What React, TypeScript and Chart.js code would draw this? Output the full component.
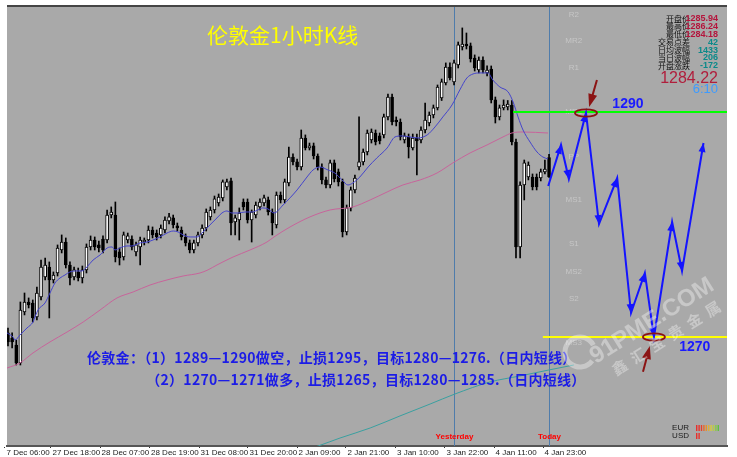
import React, { useEffect, useRef } from 'react';
import { Chart, registerables } from 'chart.js';
Chart.register(...registerables);

// ---- candle data (1h bars, index 0..131) ----
const openV = [1270.36,1269.91,1269.29,1267.69,1272.22,1273.11,1273.02,1271.78,1273.56,1275.33,1276.22,1275.07,1275.69,1277.73,1278.44,1276.4,1275.33,1275.78,1275.24,1275.96,1278.0,1278.62,1278.18,1278.71,1278.62,1280.84,1280.84,1277.56,1277.11,1278.62,1278.71,1277.56,1278.0,1278.44,1278.62,1279.51,1279.24,1279.07,1279.51,1280.31,1280.58,1279.87,1279.51,1278.89,1278.36,1277.73,1278.36,1279.07,1279.69,1280.67,1281.29,1281.91,1282.36,1283.33,1283.87,1280.22,1280.4,1282.0,1282.0,1280.4,1280.84,1281.56,1281.91,1282.18,1281.11,1279.96,1282.62,1282.18,1283.69,1286.0,1285.56,1285.11,1287.69,1286.8,1286.98,1286.09,1285.11,1283.96,1283.51,1285.47,1284.67,1283.78,1279.33,1281.47,1283.07,1285.11,1285.56,1286.44,1287.51,1288.13,1287.87,1287.96,1289.56,1291.33,1289.29,1289.11,1287.51,1287.78,1286.8,1287.69,1287.51,1288.4,1289.02,1289.73,1290.36,1291.24,1292.58,1294.0,1292.67,1294.18,1295.78,1296.04,1295.87,1294.8,1293.73,1294.62,1293.47,1293.82,1291.07,1289.56,1290.36,1290.44,1290.62,1287.33,1278.0,1283.51,1284.22,1284.22,1284.22,1284.13,1284.67,1285.94];
const highV = [1270.8,1270.36,1269.73,1273.11,1273.91,1273.47,1273.29,1274.44,1276.84,1277.02,1276.67,1275.78,1278.18,1279.07,1278.8,1276.67,1276.22,1276.13,1276.31,1278.27,1278.98,1278.89,1278.53,1278.98,1281.29,1281.56,1282.0,1277.91,1279.33,1279.24,1278.98,1278.44,1278.89,1278.8,1279.87,1279.78,1279.51,1279.96,1280.67,1280.98,1280.84,1280.13,1279.78,1279.16,1278.62,1278.62,1279.33,1279.96,1281.38,1281.56,1282.53,1282.71,1283.96,1284.04,1284.13,1280.84,1281.47,1282.27,1282.27,1281.29,1282.0,1282.27,1282.62,1282.44,1281.38,1282.89,1282.89,1284.04,1286.89,1286.27,1285.82,1288.4,1287.96,1287.24,1287.24,1286.27,1285.38,1284.22,1285.73,1285.73,1284.93,1284.04,1281.73,1283.33,1284.4,1289.56,1286.71,1288.4,1288.49,1288.4,1288.13,1289.82,1291.6,1291.6,1289.56,1289.38,1288.13,1288.04,1288.04,1288.04,1288.67,1290.8,1290.0,1290.62,1292.4,1292.93,1294.36,1294.36,1294.62,1296.22,1297.47,1297.02,1296.13,1295.07,1294.89,1294.89,1294.09,1294.09,1291.33,1290.62,1291.07,1291.02,1291.02,1287.6,1283.78,1285.73,1285.56,1284.49,1284.49,1284.93,1285.73,1286.24];
const lowV = [1269.2,1269.02,1267.51,1267.51,1271.96,1272.58,1271.33,1271.51,1273.29,1275.07,1271.69,1274.8,1275.42,1277.47,1276.13,1274.62,1275.07,1274.98,1274.8,1275.69,1277.73,1277.73,1277.56,1277.47,1278.36,1280.58,1276.67,1276.4,1276.84,1278.36,1277.73,1277.2,1276.4,1278.18,1278.36,1278.8,1278.62,1278.8,1279.24,1280.04,1279.69,1279.42,1278.62,1278.09,1277.47,1277.47,1278.09,1278.8,1279.42,1280.4,1281.02,1281.64,1282.09,1283.07,1279.07,1279.07,1278.62,1281.29,1280.13,1278.44,1280.58,1281.29,1281.64,1280.84,1279.07,1279.69,1281.91,1281.91,1283.42,1285.29,1284.84,1284.84,1286.62,1286.62,1285.82,1284.84,1283.6,1283.24,1283.24,1283.78,1283.42,1278.89,1279.07,1281.2,1282.8,1284.84,1285.29,1286.18,1287.24,1287.07,1287.16,1287.69,1289.29,1288.84,1288.76,1287.51,1287.24,1285.91,1286.62,1284.4,1287.24,1288.13,1288.76,1289.47,1290.18,1291.02,1292.4,1292.84,1292.4,1293.91,1295.51,1295.6,1294.44,1293.64,1293.47,1293.47,1293.2,1290.8,1289.02,1289.29,1290.18,1290.18,1287.07,1277.02,1277.02,1282.18,1283.96,1283.07,1283.07,1283.87,1284.49,1284.18];
const closeV = [1269.56,1269.56,1267.69,1272.4,1273.11,1272.84,1271.69,1273.91,1276.22,1276.4,1275.07,1275.51,1277.91,1278.44,1276.4,1275.24,1275.96,1275.24,1275.96,1278.0,1278.62,1278.0,1277.91,1277.73,1280.84,1281.11,1277.11,1277.02,1279.07,1278.98,1278.0,1278.18,1278.62,1278.62,1279.51,1279.07,1278.89,1279.69,1280.4,1280.67,1279.96,1279.69,1278.89,1278.36,1277.73,1278.36,1279.07,1279.69,1281.11,1281.29,1282.27,1282.44,1283.78,1283.78,1280.13,1280.58,1281.02,1281.56,1280.4,1281.11,1281.73,1282.0,1282.36,1281.11,1280.13,1282.62,1282.18,1283.78,1286.0,1285.56,1285.11,1287.69,1286.8,1286.98,1286.09,1285.11,1283.96,1283.51,1285.47,1284.04,1283.78,1279.33,1281.47,1283.07,1284.13,1285.56,1286.44,1288.13,1288.22,1287.33,1287.42,1289.56,1291.33,1289.11,1289.11,1287.78,1287.87,1286.89,1287.69,1287.42,1288.4,1289.29,1289.73,1290.36,1292.22,1292.67,1294.0,1293.02,1294.36,1295.96,1296.04,1295.87,1294.71,1293.91,1294.62,1293.73,1293.73,1291.07,1289.56,1290.36,1290.62,1290.71,1287.33,1278.0,1283.51,1285.47,1285.29,1283.33,1283.33,1284.67,1284.93,1284.22];

// ---- x-axis ticks (bar index positions) ----
const tickIdx = [-0.73, 10.41, 22.28, 34.26, 46.25, 58.11, 69.98, 81.84, 93.82, 105.81, 117.68, 129.54];
const tickLabels = ['7 Dec 06:00', '27 Dec 18:00', '28 Dec 07:00', '28 Dec 19:00', '31 Dec 08:00', '31 Dec 20:00', '2 Jan 09:00', '2 Jan 21:00', '3 Jan 10:00', '3 Jan 22:00', '4 Jan 11:00', '4 Jan 23:00'];
const xMin = -0.24;
const xMax = 174.09;
const yMin = 1260.31;
const yMax = 1299.33;

// ---- moving averages ----
const maFastIdx = [-0.24,1.21,1.69,2.9,4.6,6.05,7.26,8.96,10.17,11.38,12.59,13.8,15.0,16.7,17.9,19.1,20.6,22.3,24.0,25.2,25.9,27.1,28.8,30.0,32.0,33.7,35.1,36.8,38.5,40.0,41.2,42.4,44.1,45.8,47.2,48.9,50.6,51.8,53.0,54.2,55.7,57.4,59.1,60.5,61.7,62.95,64.4,66.6,70.0,72.4,73.85,75.5,77.5,79.1,80.9,82.3,83.5,85.2,87.2,89.3,91.8,93.7,95.4,97.3,99.3,101.5,103.4,105.3,107.5,109.4,111.1,112.6,114.3,116.2,117.4,119.1,121.1,122.3,123.5,124.7,126.4,128.1,129.5,130.75];
const maFastVal = [1270.36,1270.0,1269.73,1270.18,1270.8,1271.33,1272.4,1273.02,1273.91,1274.8,1275.24,1275.51,1275.78,1275.87,1275.87,1276.22,1276.84,1277.29,1277.91,1278.0,1277.73,1277.91,1278.09,1278.09,1278.36,1278.44,1278.62,1278.89,1279.24,1279.42,1279.33,1279.07,1278.89,1278.89,1279.33,1279.96,1280.58,1281.02,1281.2,1281.02,1281.02,1281.11,1281.11,1281.29,1281.47,1281.38,1281.02,1281.73,1283.07,1284.22,1284.84,1285.11,1284.84,1284.58,1283.96,1283.51,1283.69,1284.22,1285.11,1285.91,1286.8,1287.78,1287.87,1287.78,1287.69,1287.96,1288.67,1289.56,1290.62,1291.96,1293.02,1293.38,1293.47,1293.47,1292.84,1292.22,1291.78,1290.89,1289.56,1288.4,1287.33,1286.44,1286.0,1285.82];
const maSlowIdx = [-0.24,2.9,6.05,10.17,14.3,18.2,22.3,26.4,30.3,34.4,38.5,42.4,46.5,48.4,50.6,54.5,58.6,62.7,64.4,68.3,73.1,78.0,83.5,87.7,91.8,95.6,99.8,103.9,107.7,111.9,116.0,119.85,122.0,124.7,130.75];
const maSlowVal = [1267.24,1267.69,1268.58,1269.56,1270.44,1271.33,1272.4,1273.47,1274.0,1274.62,1275.07,1275.42,1275.69,1275.96,1276.4,1277.11,1277.73,1278.44,1278.89,1279.78,1280.67,1281.29,1281.56,1282.18,1282.89,1283.51,1283.96,1284.58,1285.47,1286.36,1287.07,1287.78,1288.13,1288.22,1288.13];
const maLongIdx = [70.7,75.1,80.4,87.7,94.9,102.2,108.2,116.7,123.9,131.0,137.0];
const maLongVal = [1259.78,1260.31,1261.02,1261.91,1262.98,1264.04,1264.93,1266.0,1266.53,1267.07,1267.51];

// ---- projected path ----
const pathIdx = [130.8,133.9,135.8,139.95,143.1,147.5,150.85,154.2,156.4,160.8,163.2,168.4];
const pathVal = [1283.42,1287.07,1284.04,1289.91,1280.04,1284.13,1272.13,1275.69,1270.0,1280.22,1275.87,1287.24];

const resistance = 1290;
const resistanceFrom = 122.3;
const support = 1270;
const supportFrom = 129.5;

const pivotNames = ['R2', 'MR2', 'R1', 'MR1', 'PP', 'MS1', 'S1', 'MS2', 'S2', 'MS3'];
const pivotValues = [1298.62, 1296.31, 1293.91, 1290.0, 1286.0, 1282.18, 1278.27, 1275.78, 1273.38, 1269.47];
const pivotIdx = 137;

const yesterdayIdx = 108;
const todayIdx = 131;

const infoLabels = ['开盘价', '最高价', '最低价', '交易点差', '日均波幅', '当日波幅', '开盘涨跌'];
const infoValues = ['1285.94', '1286.24', '1284.18', '42', '1433', '206', '-172'];
const lastPrice = '1284.22';
const countdown = '6:10';

const titleText = '伦敦金1小时K线';
const note1 = '伦敦金：（1）1289—1290做空，止损1295，目标1280—1276.（日内短线）';
const note2Prefix = '伦敦金：';
const note2 = '（2）1270—1271做多，止损1265，目标1280—1285.（日内短线）';

const markHigh = [139.95, 1289.91];
const markLow = [156.4, 1270.0];
const arrowHigh = [142.6, 1292.84, 140.7, 1290.44];
const arrowLow = [153.75, 1266.9, 155.4, 1269.2];
const label1290 = [150.1, 1290.7, '1290'];
const label1270 = [166.3, 1269.1, '1270'];

const eurBarColors = ['#e8302c', '#e8302c', '#e8402c', '#e86a2a', '#e8902a', '#e0b030', '#d8cc3a', '#b8d040', '#88cc40', '#60c040'];
const usdBarColors = ['#e8302c', '#e8302c'];

const LATIN = '"Liberation Sans", Arial, sans-serif';
const CJK = '"Noto Sans CJK SC", "Noto Sans", sans-serif';

function head(ctx: CanvasRenderingContext2D, fx: number, fy: number, tx: number, ty: number, len: number, half: number) {
  const ang = Math.atan2(ty - fy, tx - fx);
  const c = Math.cos(ang), s = Math.sin(ang);
  ctx.beginPath();
  ctx.moveTo(tx, ty);
  ctx.lineTo(tx - len * c + half * s, ty - len * s - half * c);
  ctx.lineTo(tx - len * c - half * s, ty - len * s + half * c);
  ctx.closePath();
  ctx.fill();
}

const bgPlugin = {
  id: 'bgPlugin',
  beforeDraw(chart: any) {
    const { ctx, chartArea: a, width, height } = chart;
    ctx.save();
    ctx.fillStyle = '#ffffff';
    ctx.fillRect(0, 0, width, height);
    ctx.fillStyle = '#a9a9a9';
    ctx.fillRect(a.left, a.top, a.right - a.left, a.bottom - a.top);
    ctx.fillStyle = '#454545';
    ctx.fillRect(a.left, a.top - 2, a.right - a.left, 2);
    ctx.restore();
  },
};

const overlayPlugin = {
  id: 'overlayPlugin',
  beforeDatasetsDraw(chart: any) {
    const { ctx, chartArea: a, scales } = chart;
    const x = scales.x, y = scales.y;
    ctx.save();
    ctx.strokeStyle = '#4f7cab';
    ctx.lineWidth = 1;
    [yesterdayIdx, todayIdx].forEach((v) => {
      const px = Math.round(x.getPixelForValue(v)) + 0.5;
      ctx.beginPath();
      ctx.moveTo(px, a.top);
      ctx.lineTo(px, a.bottom);
      ctx.stroke();
    });
    ctx.font = `8px ${LATIN}`;
    ctx.fillStyle = '#c6c6c6';
    ctx.textAlign = 'center';
    ctx.textBaseline = 'middle';
    pivotNames.forEach((n, k) => {
      ctx.fillText(n, x.getPixelForValue(pivotIdx), y.getPixelForValue(pivotValues[k]));
    });
    ctx.restore();
  },
  afterDatasetsDraw(chart: any) {
    const { ctx, chartArea: a, scales } = chart;
    const x = scales.x, y = scales.y;
    ctx.save();

    // arrowheads on projected path
    const meta = chart.getDatasetMeta(0);
    const P = meta.data.map((e: any) => ({ x: e.x, y: e.y }));
    ctx.fillStyle = '#1414ff';
    for (let k = 1; k < P.length; k++) head(ctx, P[k - 1].x, P[k - 1].y, P[k].x, P[k].y, 9, 3.5);

    // ellipses
    ctx.strokeStyle = '#8b1414';
    ctx.lineWidth = 1.8;
    [markHigh, markLow].forEach((m) => {
      ctx.beginPath();
      ctx.ellipse(x.getPixelForValue(m[0]), y.getPixelForValue(m[1]), 11, 3.6, 0, 0, Math.PI * 2);
      ctx.stroke();
    });

    // dark red arrows
    ctx.fillStyle = '#8b1414';
    [arrowHigh, arrowLow].forEach((ar) => {
      const fx = x.getPixelForValue(ar[0]), fy = y.getPixelForValue(ar[1]);
      const tx = x.getPixelForValue(ar[2]), ty = y.getPixelForValue(ar[3]);
      const ang = Math.atan2(ty - fy, tx - fx);
      ctx.beginPath();
      ctx.moveTo(fx, fy);
      ctx.lineTo(tx - 9 * Math.cos(ang), ty - 9 * Math.sin(ang));
      ctx.lineWidth = 2;
      ctx.stroke();
      head(ctx, fx, fy, tx, ty, 13, 4.5);
    });

    // level labels
    ctx.font = `bold 14px ${LATIN}`;
    ctx.fillStyle = '#1a1aff';
    ctx.textAlign = 'center';
    ctx.textBaseline = 'middle';
    [label1290, label1270].forEach((l: any) => {
      ctx.fillText(l[2], x.getPixelForValue(l[0]), y.getPixelForValue(l[1]));
    });

    // title
    ctx.font = `21px ${CJK}`;
    ctx.fillStyle = '#ffff00';
    ctx.textAlign = 'left';
    ctx.fillText(titleText, a.left + 200, a.top + 28);

    // info panel
    infoLabels.forEach((lab, k) => {
      const ry = a.top + 11.5 + k * 7.9;
      ctx.font = `8px ${CJK}`;
      ctx.fillStyle = '#111111';
      ctx.textAlign = 'right';
      ctx.fillText(lab, a.right - 37, ry);
      ctx.font = `bold 9px ${LATIN}`;
      ctx.fillStyle = k < 3 ? '#b4143c' : '#0a8a8a';
      ctx.fillText(infoValues[k], a.right - 9, ry);
    });
    ctx.font = `16px ${LATIN}`;
    ctx.fillStyle = '#b01e3c';
    ctx.fillText(lastPrice, a.right - 9, a.top + 72);
    ctx.font = `13px ${LATIN}`;
    ctx.fillStyle = '#3d9bff';
    ctx.fillText(countdown, a.right - 9, a.top + 82);

    // notes
    ctx.font = `bold 14px ${CJK}`;
    (ctx as any).letterSpacing = '0.3px';
    ctx.fillStyle = '#1c1ce6';
    ctx.textAlign = 'left';
    const nx = a.left + 80;
    ctx.fillText(note1, nx, 358);
    ctx.fillText(note2, nx + ctx.measureText(note2Prefix).width + 2, 380);
    (ctx as any).letterSpacing = '0px';

    // Yesterday / Today labels
    ctx.font = `bold 8px ${LATIN}`;
    ctx.fillStyle = '#ff0000';
    ctx.textAlign = 'center';
    ctx.fillText('Yesterday', Math.round(x.getPixelForValue(yesterdayIdx)) + 0.5, a.bottom - 9);
    ctx.fillText('Today', Math.round(x.getPixelForValue(todayIdx)) + 0.5, a.bottom - 9);

    // currency strength meter
    ctx.font = `8px ${LATIN}`;
    ctx.fillStyle = '#1a1a1a';
    ctx.textAlign = 'right';
    ctx.fillText('EUR', a.right - 38, a.bottom - 18);
    ctx.fillText('USD', a.right - 38, a.bottom - 10);
    eurBarColors.forEach((c, k) => {
      ctx.fillStyle = c;
      ctx.fillRect(a.right - 31 + k * 2.4, a.bottom - 21, 1.4, 6);
    });
    usdBarColors.forEach((c, k) => {
      ctx.fillStyle = c;
      ctx.fillRect(a.right - 31 + k * 2.4, a.bottom - 13, 1.4, 6);
    });

    // watermark
    ctx.fillStyle = 'rgba(255,255,255,0.36)';
    ctx.strokeStyle = 'rgba(255,255,255,0.36)';
    ctx.lineWidth = 5;
    ctx.beginPath();
    ctx.arc(580, 352, 15, 0.2 * Math.PI, 1.85 * Math.PI);
    ctx.stroke();
    ctx.translate(652, 321);
    ctx.rotate(-0.56);
    ctx.font = `bold 24px ${LATIN}`;
    ctx.textAlign = 'center';
    ctx.fillText('91PME.COM', 0, 0);
    ctx.font = `bold 15px ${CJK}`;
    const wm = '鑫汇宝贵金属';
    for (let k = 0; k < wm.length; k++) ctx.fillText(wm[k], -52 + k * 22, 22);

    ctx.restore();
  },
};

export default function App() {
  const ref = useRef<HTMLCanvasElement>(null);
  useEffect(() => {
    document.body.style.margin = '0';
    const canvas = ref.current;
    if (!canvas) return;
    const idx = openV.map((_, i) => i);
    const bodies = idx.map((i) => ({ x: i, y: [Math.min(openV[i], closeV[i]), Math.max(openV[i], closeV[i])] }));
    const wicks = idx.map((i) => ({ x: i, y: [lowV[i], highV[i]] }));
    const bodyColors = idx.map((i) => (closeV[i] >= openV[i] ? '#ffffff' : '#000000'));
    const pts = (xs: number[], ys: number[]) => xs.map((v, k) => ({ x: v, y: ys[k] }));

    const chart = new Chart(canvas, {
      type: 'bar',
      data: {
        datasets: [
          { type: 'line', data: pts(pathIdx, pathVal), borderColor: '#1414ff', borderWidth: 2, pointRadius: 0, tension: 0, order: 0 } as any,
          { type: 'line', data: [{ x: resistanceFrom, y: resistance }, { x: xMax, y: resistance }], borderColor: '#00ff00', borderWidth: 2, pointRadius: 0, order: 0 } as any,
          { type: 'line', data: [{ x: supportFrom, y: support }, { x: xMax, y: support }], borderColor: '#ffff00', borderWidth: 2, pointRadius: 0, order: 0 } as any,
          { type: 'line', data: pts(maFastIdx, maFastVal), borderColor: '#4444cc', borderWidth: 1, pointRadius: 0, cubicInterpolationMode: 'monotone', order: 1 } as any,
          { type: 'line', data: pts(maSlowIdx, maSlowVal), borderColor: '#c8649b', borderWidth: 1, pointRadius: 0, cubicInterpolationMode: 'monotone', order: 1 } as any,
          { type: 'line', data: pts(maLongIdx, maLongVal), borderColor: '#3aa0a0', borderWidth: 1, pointRadius: 0, cubicInterpolationMode: 'monotone', order: 1 } as any,
          { type: 'bar', data: bodies, backgroundColor: bodyColors, borderColor: '#000000', borderWidth: 1, borderSkipped: false, barThickness: 3, grouped: false, order: 2 } as any,
          { type: 'bar', data: wicks, backgroundColor: '#000000', borderWidth: 0, barThickness: 1, grouped: false, order: 3 } as any,
        ],
      },
      options: {
        animation: false,
        responsive: false,
        devicePixelRatio: 1,
        events: [],
        layout: { padding: { left: 7, top: 7, right: 10, bottom: 0 } },
        plugins: { legend: { display: false }, tooltip: { enabled: false } },
        scales: {
          x: {
            type: 'linear',
            min: xMin,
            max: xMax,
            offset: false,
            position: 'bottom',
            afterBuildTicks: (s: any) => {
              s.ticks = tickIdx.map((v) => ({ value: v }));
            },
            afterFit: (s: any) => {
              s.height = 11;
            },
            ticks: {
              autoSkip: false,
              maxRotation: 0,
              minRotation: 0,
              align: 'start',
              padding: 0,
              labelOffset: 1.5,
              color: '#222222',
              font: { size: 8, family: LATIN },
              callback: (_v: any, i: number) => tickLabels[i],
            },
            grid: { drawOnChartArea: false, drawTicks: true, tickLength: 2, color: '#333333', offset: false },
            border: { display: true, color: '#555555', width: 2 },
          } as any,
          y: { type: 'linear', min: yMin, max: yMax, display: false, beginAtZero: false } as any,
        },
      } as any,
      plugins: [bgPlugin, overlayPlugin] as any,
    });
    return () => chart.destroy();
  }, []);
  return <canvas ref={ref} width={737} height={457} style={{ display: 'block' }} />;
}
